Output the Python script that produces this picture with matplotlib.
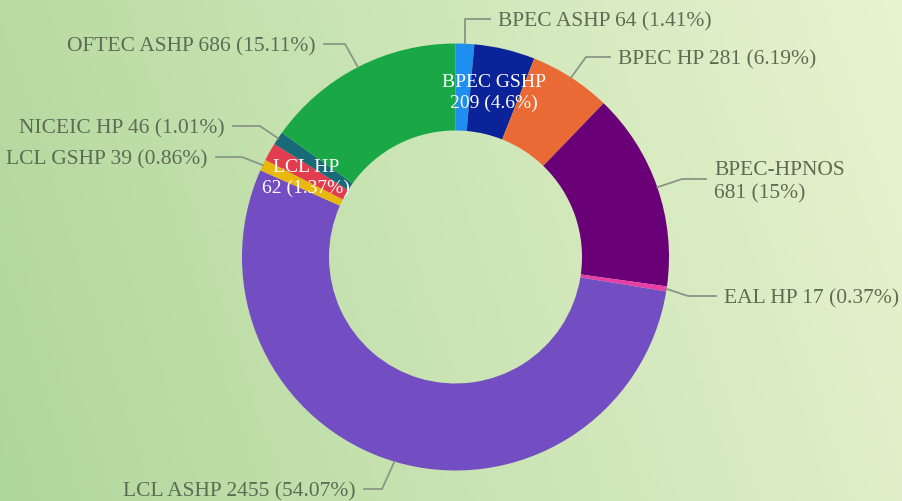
import numpy as np
import matplotlib.pyplot as plt

labels = ['BPEC ASHP', 'BPEC GSHP', 'BPEC HP', 'BPEC-HPNOS', 'EAL HP',
          'LCL ASHP', 'LCL GSHP', 'LCL HP', 'NICEIC HP', 'OFTEC ASHP']
counts = [64, 209, 281, 681, 17, 2455, 39, 62, 46, 686]
colors = ['#1e8ff0', '#0b2399', '#ea6a35', '#690077', '#e83fa6',
          '#734dc2', '#e8b80c', '#e23c4e', '#186a79', '#1aa847']

W, H = 902, 502
cx, cy = 455.5, H - 258
r_out, ring = 213.5, 87

fig = plt.figure(figsize=(W / 100, H / 100), dpi=100)
ax = fig.add_axes([0, 0, 1, 1])

# background gradient
xx, yy = np.meshgrid(np.linspace(0, 1, 200), np.linspace(0, 1, 120))
c_left = np.array([176, 215, 155]) / 255
c_right = np.array([232, 243, 208]) / 255
t = np.clip(xx * 0.85 + (1 - yy) * 0.15, 0, 1)[..., None]
bg = c_left * (1 - t) + c_right * t
ax.imshow(bg, extent=[0, W, 0, H], origin='upper', aspect='auto', zorder=0)

wedges, _ = ax.pie(counts, colors=colors, startangle=90, counterclock=False,
                   center=(cx, cy), radius=r_out,
                   wedgeprops=dict(width=ring, linewidth=0), frame=False)
for w in wedges:
    w.set_zorder(2)

total = sum(counts)
txt_color = '#5d6b55'
font = dict(family='Liberation Serif', fontsize=15.5)

# label layout in pixel coords: elbow, line end, text pos, alignment
layout = {
    'BPEC ASHP': ((465, 20), (490, 20), (498, 22), 'left'),
    'BPEC HP': ((586, 58), (610, 58), (618, 60), 'left'),
    'BPEC-HPNOS': ((682, 180), (706, 180), (714, 182), 'left'),
    'EAL HP': ((688, 297), (716, 297), (724, 299), 'left'),
    'LCL ASHP': ((382, 490), (364, 490), (356, 492), 'right'),
    'LCL GSHP': ((242, 158), (216, 158), (208, 160), 'right'),
    'NICEIC HP': ((260, 127), (233, 127), (225, 129), 'right'),
    'OFTEC ASHP': ((345, 45), (324, 45), (316, 47), 'right'),
}
inside = {
    'BPEC GSHP': (494, 93),
    'LCL HP': (306, 178),
}

cum = 0
for name, val in zip(labels, counts):
    mid = 90 - 360 * (cum + val / 2) / total
    cum += val
    pct = round(val / total * 100, 2)
    pct_s = f'{pct:g}%'
    if name in inside:
        x, y = inside[name]
        ax.text(x, H - y, f'{name}\n{val} ({pct_s})', color='white',
                ha='center', va='center', linespacing=1.25, zorder=4,
                family='Liberation Serif', fontsize=14)
        continue
    elbow, end, tpos, ha = layout[name]
    a = np.deg2rad(mid)
    px, py = cx + r_out * np.cos(a), cy + r_out * np.sin(a)
    ax.plot([px, elbow[0], end[0]], [py, H - elbow[1], H - end[1]],
            color='#8a9686', lw=1.3, zorder=3)
    if name == 'BPEC-HPNOS':
        s = f'{name}\n{val} ({pct_s})'
    else:
        s = f'{name} {val} ({pct_s})'
    ax.text(tpos[0], H - tpos[1], s, color=txt_color, ha=ha, va='center',
            linespacing=1.3, zorder=4, **font)

ax.set_xlim(0, W)
ax.set_ylim(0, H)
ax.set_aspect('equal')
ax.axis('off')

fig.savefig('out.png', dpi=100)
